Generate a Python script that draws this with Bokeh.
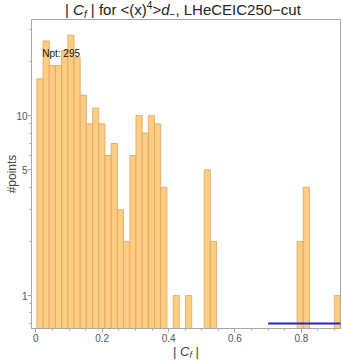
from bokeh.plotting import figure
from bokeh.models import Range1d, Label, FixedTicker, ColumnDataSource, Div
from bokeh.layouts import column
from bokeh.embed import file_html
from bokeh.resources import INLINE

# ---- data ----
bin_width = 0.01867
bin_left = [0.0030, 0.0217, 0.0403, 0.0590, 0.0777, 0.0964, 0.1150, 0.1337,
            0.1524, 0.1710, 0.1897, 0.2084, 0.2270, 0.2457, 0.2644, 0.2831,
            0.3017, 0.3204, 0.3391, 0.3577, 0.3764, 0.4137, 0.4511, 0.5071,
            0.5258, 0.7871, 0.8058, 0.8992]
counts = [16, 26, 19, 19, 23, 28, 21, 13,
          9, 11, 9, 6, 7, 3, 2, 6,
          10, 8, 10, 9, 4, 1, 1, 5,
          2, 2, 4, 1]
npt = 295
ref_x = [0.70, 0.93]
ref_y = [0.70, 0.70]
x_ticks = [0.0, 0.2, 0.4, 0.6, 0.8]
x_minor = [0.05, 0.1, 0.15, 0.25, 0.3, 0.35, 0.45, 0.5, 0.55, 0.65, 0.7, 0.75, 0.85, 0.9]
y_ticks = [1, 5, 10]
y_minor = [0.7, 0.8, 0.9, 2, 3, 4, 6, 7, 8, 9, 20, 30]

FONT = "Liberation Sans"
AX = "#a6a6a6"
LAB = "#555555"

src = ColumnDataSource(dict(
    left=bin_left,
    right=[b + bin_width for b in bin_left],
    top=counts,
    bottom=[0.01] * len(counts),
))

p = figure(width=342, height=327,
           x_range=Range1d(-0.0131, 0.918), y_range=Range1d(0.656, 34.2),
           y_axis_type="log", output_backend="svg", toolbar_location=None,
           min_border_left=31, min_border_right=2, min_border_top=0,
           min_border_bottom=18, margin=(0, 0, 0, 0))
p.title.visible = False
p.xgrid.visible = False
p.ygrid.visible = False
p.outline_line_color = AX
p.background_fill_color = "white"
p.border_fill_color = "white"

p.quad(left="left", right="right", top="top", bottom="bottom", source=src,
       fill_color="#fdcd83", line_color="#e0a55e", line_width=0.8)
p.line(ref_x, ref_y, line_color="#2828b8", line_width=2)

xa = p.xaxis[0]
xa.ticker = FixedTicker(ticks=x_ticks, minor_ticks=x_minor)
ya = p.yaxis[0]
ya.ticker = FixedTicker(ticks=y_ticks, minor_ticks=y_minor)
ya.major_label_overrides = {1: "1", 5: "5", 10: "10"}
for a in (xa, ya):
    a.axis_line_color = AX
    a.major_tick_line_color = AX
    a.minor_tick_line_color = AX
    a.major_tick_out = 4
    a.major_tick_in = 0
    a.minor_tick_out = 2
    a.minor_tick_in = 0
    a.major_label_text_font = FONT
    a.major_label_text_font_size = "10px"
    a.major_label_text_color = LAB
xa.major_label_standoff = 1
ya.major_label_standoff = 0
ya.axis_label = "#points"
ya.axis_label_text_font = FONT
ya.axis_label_text_font_size = "12px"
ya.axis_label_text_font_style = "normal"
ya.axis_label_text_color = "#444444"
ya.axis_label_standoff = -6

# Npt annotation (inside the frame)
p.add_layout(Label(x=10.7, y=275, x_units="screen", y_units="screen",
                   text=f"Npt: {npt}", text_font=FONT, text_font_size="10px",
                   text_color="#111111", text_baseline="alphabetic"))

sub = '<span style="font-size:10px;position:relative;top:3px">{}</span>'
sup = '<span style="font-size:10px;position:relative;top:-6px">{}</span>'
title_html = ("| <i>C</i>" + sub.format("<i>f</i>") + " | for &lt;(x)" + sup.format("4")
              + "&gt;<i>d</i>" + sub.format("\u2212") + ", LHeCEIC250\u2212cut")
title = Div(text=title_html, width=342, height=19, margin=(0, 0, 0, 0),
            styles={"font-family": FONT, "font-size": "15px", "line-height": "19px",
                    "text-align": "left", "padding-left": "65px", "color": "#222222",
                    "white-space": "nowrap", "box-sizing": "border-box", "width": "342px"})
xsub = '<span style="font-size:9px;position:relative;top:2px">{}</span>'
xlabel_html = "| <i>C</i>" + xsub.format("<i>f</i>") + " |"
xlabel = Div(text=xlabel_html, width=312, height=14, margin=(0, 0, 0, 30),
             styles={"font-family": FONT, "font-size": "13px", "line-height": "12px",
                     "text-align": "center", "color": "#444444", "white-space": "nowrap",
                     "width": "312px"})

layout = column(title, p, xlabel, spacing=0, margin=(0, 0, 0, 0))
open("out.html", "w").write(file_html(layout, INLINE))
